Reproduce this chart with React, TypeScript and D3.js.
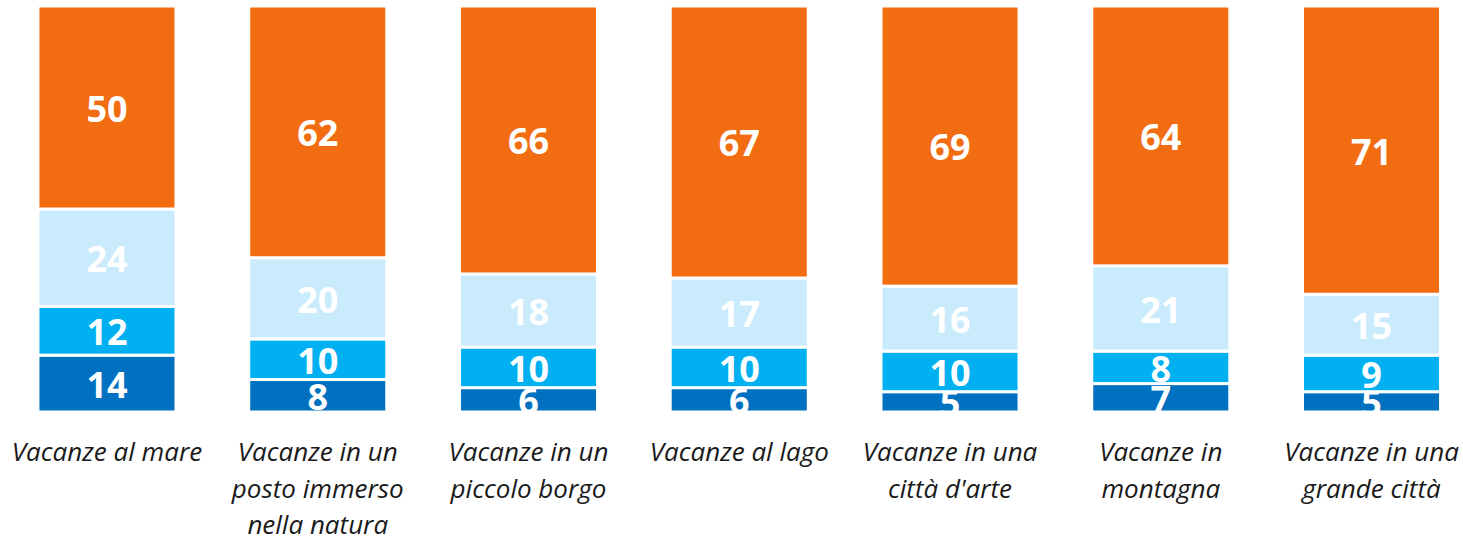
import { useEffect, useRef } from 'react';
import * as d3 from 'd3';

// categorie (con a capo come nel grafico originale)
const categories = [
  'Vacanze al mare',
  'Vacanze in un|posto immerso|nella natura',
  'Vacanze in un|piccolo borgo',
  'Vacanze al lago',
  "Vacanze in una|città d'arte",
  'Vacanze in|montagna',
  'Vacanze in una|grande città',
];

// serie dal basso verso l'alto
const seriesKeys = ['s1', 's2', 's3', 's4'];
const s1 = [14, 8, 6, 6, 5, 7, 5];
const s2 = [12, 10, 10, 10, 10, 8, 9];
const s3 = [24, 20, 18, 17, 16, 21, 15];
const s4 = [50, 62, 66, 67, 69, 64, 71];

const colors = ['#0070C0', '#00B0F0', '#C9EBFC', '#F26C12'];

const W = 1463;
const H = 536;

const App = () => {
  const svgRef = useRef<SVGSVGElement>(null);

  useEffect(() => {
    if (!svgRef.current) return;
    const svg = d3.select(svgRef.current);
    svg.selectAll('*').remove();

    const rows = categories.map((c, i) => ({ cat: c, s1: s1[i], s2: s2[i], s3: s3[i], s4: s4[i] }));
    const stacked = d3.stack<any>().keys(seriesKeys)(rows);

    const x = d3.scaleBand()
      .domain(categories)
      .range([1.6, 1476.9])
      .paddingInner(0.345)
      .paddingOuter(0.1725);

    const y = d3.scaleLinear().domain([0, 100]).range([412, 6]);

    const layers = svg.selectAll('g.layer')
      .data(stacked)
      .enter()
      .append('g')
      .attr('class', 'layer')
      .attr('fill', (_d, i) => colors[i]);

    layers.selectAll('rect')
      .data(d => d)
      .enter()
      .append('rect')
      .attr('x', d => x(d.data.cat)!)
      .attr('width', x.bandwidth())
      .attr('y', d => y(d[1]))
      .attr('height', d => y(d[0]) - y(d[1]))
      .attr('stroke', 'white')
      .attr('stroke-width', 3);

    // etichette dei valori
    layers.selectAll('text')
      .data(d => d)
      .enter()
      .append('text')
      .attr('x', d => x(d.data.cat)! + x.bandwidth() / 2)
      .attr('y', d => (y(d[0]) + y(d[1])) / 2)
      .attr('dy', '0.4em')
      .attr('text-anchor', 'middle')
      .style('font-family', '"Open Sans", sans-serif')
      .style('font-weight', 'bold')
      .style('font-size', '36px')
      .style('fill', 'white')
      .text(d => d[1] - d[0]);

    // etichette asse x
    const labels = svg.append('g')
      .selectAll('text')
      .data(categories)
      .enter()
      .append('text')
      .attr('x', d => x(d)! + x.bandwidth() / 2)
      .attr('y', 461)
      .attr('text-anchor', 'middle')
      .style('font-family', '"Open Sans", sans-serif')
      .style('font-style', 'italic')
      .style('font-size', '26px')
      .style('fill', '#1a1a1a');

    labels.each(function (d) {
      const t = d3.select(this);
      d.split('|').forEach((line, i) => {
        t.append('tspan')
          .attr('x', x(d)! + x.bandwidth() / 2)
          .attr('dy', i === 0 ? 0 : 36.5)
          .text(line);
      });
    });
  }, []);

  return (
    <svg
      ref={svgRef}
      width={W}
      height={H}
      style={{ position: 'absolute', left: 0, top: 0, background: 'white' }}
    />
  );
};

export default App;
